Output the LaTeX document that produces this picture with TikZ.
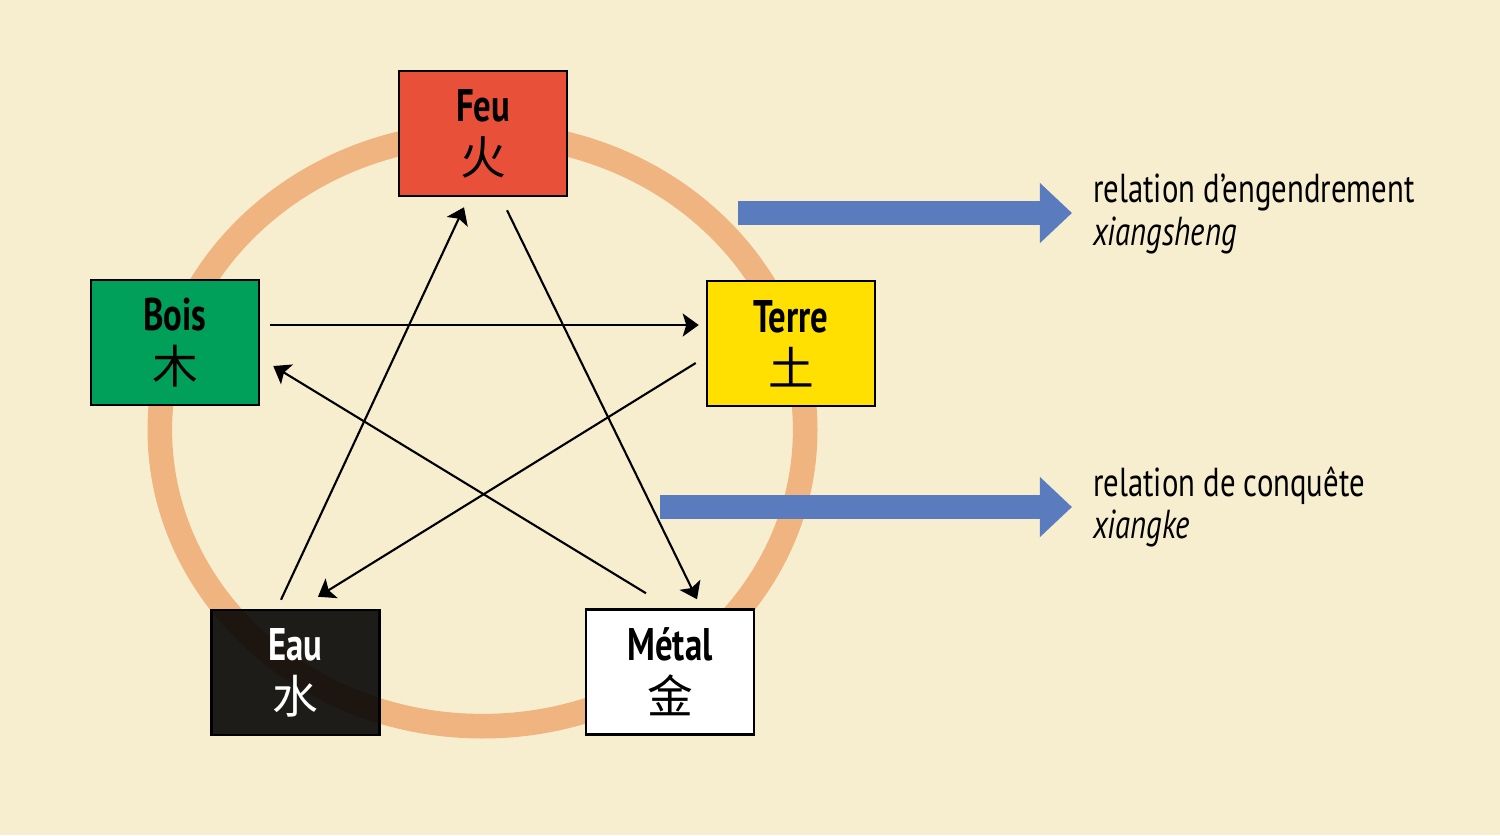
\documentclass[tikz,border=0pt]{standalone}
\usepackage{fontspec}
\setmainfont{PT Sans}[FakeStretch=0.76]
\newfontfamily\cjk{Noto Sans CJK SC}
\usetikzlibrary{arrows.meta, calc}

\definecolor{fond}{HTML}{F7EED0}
\definecolor{anneau}{HTML}{EFB47F}
\definecolor{rouge}{HTML}{E8503A}
\definecolor{vert}{HTML}{00A05A}
\definecolor{jaune}{HTML}{FFE000}
\definecolor{bleu}{HTML}{5B7BBF}

\tikzset{
  elem/.style={draw=black, line width=0.7pt, minimum width=1.68cm, minimum height=1.25cm,
    align=center, inner sep=0pt, font=\fontsize{13}{14}\selectfont\bfseries},
  legende/.style={anchor=west, align=left, inner sep=0pt, font=\fontsize{11.5}{12}\selectfont},
  fleche/.style={bleu, line width=0.24cm, -{Triangle[length=0.32cm, width=0.58cm]}}
}

\begin{document}
\begin{tikzpicture}[x=0.01cm, y=-0.01cm, >={Stealth[length=1.6mm, width=2.3mm, inset=0.35mm]}, line width=0.6pt]
  \fill[fond] (0,0) rectangle (1500,835);
  \useasboundingbox (0,0) rectangle (1500,835);
  % le cycle
  \draw[anneau, line width=7pt] (482.5,430) ellipse (3.225cm and 2.96cm);

  \node[elem, fill=rouge] (feu) at (483,133.5) {Feu\\[1pt]{\cjk\mdseries 火}};
  \node[elem, fill=vert] (bois) at (175,342.5) {Bois\\[1pt]{\cjk\mdseries 木}};
  \node[elem, fill=jaune] (terre) at (791,343.5) {Terre\\[1pt]{\cjk\mdseries 土}};
  \node[elem, fill=black, fill opacity=0.88, text opacity=1, text=white] (eau) at (295.5,672.5) {Eau\\[1pt]{\cjk\mdseries 水}};
  \node[elem, fill=white] (metal) at (670,672) {Métal\\[1pt]{\cjk\mdseries 金}};

  % engendrement et conquete
  \draw[->] ($(bois.east)+(10,-17.5)$) -- ($(terre.west)+(-7,-18.5)$);
  \draw[->] ($(terre.west)+(-10,19.5)$) -- ($(eau.north)+(22.5,-12)$);
  \draw[->] ($(eau.north)+(-14.5,-9)$) -- ($(feu.south)+(-19,10)$);
  \draw[->] ($(feu.south)+(24,13)$) -- ($(metal.north)+(27,-9)$);
  \draw[->] ($(metal.north)+(-24,-15)$) -- ($(bois.east)+(13,23.5)$);

  % legende
  \node[legende] (leg1) at (1092,214) {relation d’engendrement\\[0pt]\itshape xiangsheng};
  \node[legende] (leg2) at (1092,507) {relation de conquête\\[0pt]\itshape xiangke};
  \coordinate (d1) at (738,213);
  \coordinate (d2) at (660,507);
  \draw[fleche] (d1) -- ($(d1 -| leg1.west)+(-20,0)$);
  \draw[fleche] (d2) -- ($(d2 -| leg2.west)+(-20,0)$);
\end{tikzpicture}
\end{document}
